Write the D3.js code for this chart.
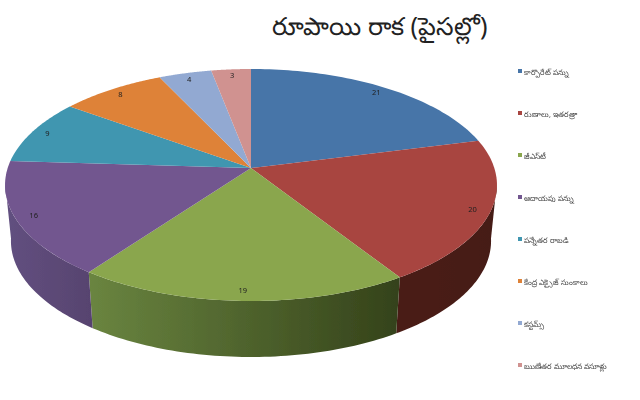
<!DOCTYPE html>
<html>
<head>
<meta charset="utf-8">
<script src="https://cdn.jsdelivr.net/npm/d3@7"></script>
<style>
  html, body { margin: 0; background: #fff; }
  svg { display: block; font-family: "Noto Sans", "DejaVu Sans", sans-serif; }
</style>
</head>
<body>
<svg id="chart" width="640" height="400"></svg>
<script>
const title = 'రూపాయి రాక (పైసల్లో)';
const categories = ['కార్పొరేట్ పన్ను', 'రుణాలు, ఇతరత్రా', 'జీఎస్‌టీ', 'ఆదాయపు పన్ను', 'పన్నేతర రాబడి', 'కేంద్ర ఎక్సైజ్ సుంకాలు', 'కస్టమ్స్', 'ఋణేతర మూలధన వసూళ్లు'];
const values = [21, 20, 19, 16, 9, 8, 4, 3];
const colors = ['#4674a8', '#a84440', '#8aa64e', '#72568f', '#3f96b0', '#de8238', '#92a9d2', '#d09290'];
// wall shading, left to right
const wallColors = {
  1: ['#4a1d18', '#451a15'],
  2: ['#6a8540', '#34421a'],
  3: ['#625080', '#57436f']
};

const svg = d3.select('#chart');

// tilted disc with perspective: far edge is squeezed, near edge stretched
const cx = 251, cy = 168, persp = 0.1466;
const xScale = d3.scaleLinear().domain([-1, 1]).range([cx - 243.3, cx + 243.3]);
const yScale = d3.scaleLinear().domain([-1, 1]).range([cy + 113.5, cy - 113.5]);
const depth = 56;

function project(angle, r) {
  const u = r * Math.sin(angle);
  const v = r * Math.cos(angle);
  const w = 1 + persp * v;
  return [xScale(u / w), yScale(v / w)];
}

function projectBottom(angle) {
  const p = project(angle, 1);
  return [cx + (p[0] - cx) * 0.976, p[1] + depth];
}

function arcAngles(a0, a1) {
  return d3.range(0, 61).map(i => a0 + (a1 - a0) * i / 60);
}

const line = d3.line();
const pies = d3.pie().sort(null)(values);

const defs = svg.append('defs');
defs.append('filter').attr('id', 'soft')
    .append('feGaussianBlur').attr('stdDeviation', 0.5);
defs.append('filter').attr('id', 'softText')
    .append('feGaussianBlur').attr('stdDeviation', 0.3);

Object.keys(wallColors).forEach(i => {
  const grad = defs.append('linearGradient').attr('id', 'wall' + i);
  grad.append('stop').attr('offset', '0%').attr('stop-color', wallColors[i][0]);
  grad.append('stop').attr('offset', '100%').attr('stop-color', wallColors[i][1]);
});

const chart = svg.append('g').attr('filter', 'url(#soft)');

// walls, only the near side of the disc shows
const wallStart = Math.PI * 0.54;
const wallEnd = Math.PI * 1.46;
pies.forEach((d, i) => {
  const a0 = Math.max(d.startAngle, wallStart);
  const a1 = Math.min(d.endAngle, wallEnd);
  if (a1 <= a0) return;
  const angles = arcAngles(a0, a1);
  const pts = angles.map(a => project(a, 1))
                    .concat(angles.slice().reverse().map(projectBottom));
  chart.append('path')
       .attr('d', line(pts) + 'Z')
       .attr('fill', 'url(#wall' + i + ')');
});

// top faces
chart.selectAll('path.slice')
     .data(pies)
     .enter()
     .append('path')
     .attr('class', 'slice')
     .attr('d', d => line([[cx, cy]].concat(arcAngles(d.startAngle, d.endAngle).map(a => project(a, 1)))) + 'Z')
     .attr('fill', (d, i) => colors[i]);

// data labels
const labels = svg.append('g').attr('filter', 'url(#softText)');
labels.selectAll('text.value')
      .data(pies)
      .enter()
      .append('text')
      .attr('class', 'value')
      .attr('transform', d => 'translate(' + project((d.startAngle + d.endAngle) / 2, 0.93) + ')')
      .attr('text-anchor', 'middle')
      .attr('dy', '0.35em')
      .attr('font-size', 7.5)
      .attr('fill', '#222')
      .text(d => d.value);

// legend
const legendY = d3.scalePoint().domain(categories).range([72, 366]);
const legend = svg.append('g').attr('filter', 'url(#softText)')
                  .selectAll('g.legend')
                  .data(categories)
                  .enter()
                  .append('g')
                  .attr('class', 'legend')
                  .attr('transform', d => 'translate(518,' + legendY(d) + ')');
legend.append('rect')
      .attr('y', -3)
      .attr('width', 4)
      .attr('height', 4)
      .attr('fill', (d, i) => colors[i]);
legend.append('text')
      .attr('x', 6)
      .attr('dy', '0.35em')
      .attr('font-size', 7.6)
      .attr('fill', '#444')
      .text(d => d);

svg.append('text')
   .attr('x', 380)
   .attr('y', 35)
   .attr('text-anchor', 'middle')
   .attr('font-size', 25)
   .attr('fill', '#222')
   .text(title);
</script>
</body>
</html>
